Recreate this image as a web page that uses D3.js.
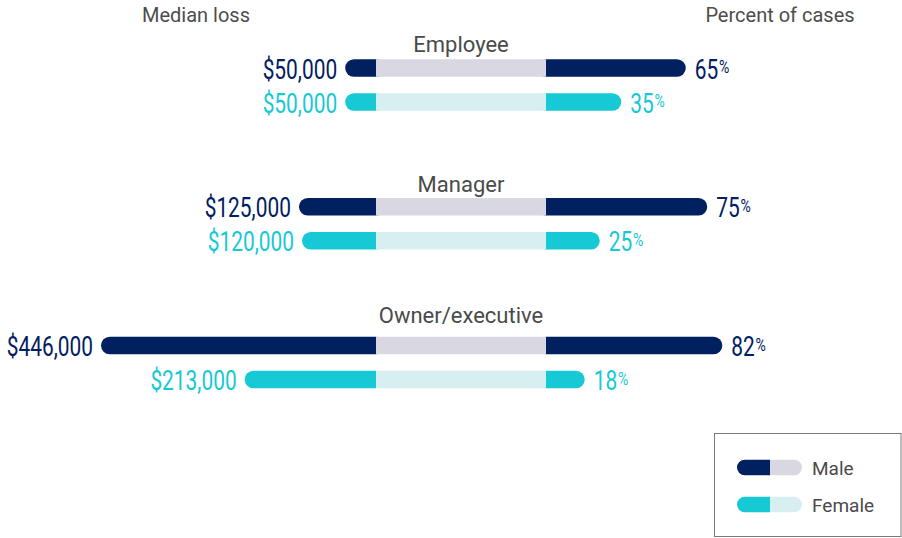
<!DOCTYPE html>
<html>
<head>
<meta charset="utf-8">
<script src="https://cdn.jsdelivr.net/npm/d3@7"></script>
<style>
  html, body { margin: 0; padding: 0; background: #fff; }
  svg { display: block; font-family: Roboto, "Open Sans", sans-serif; }
</style>
</head>
<body>
<svg id="chart" width="902" height="538"></svg>
<script>
// Perpetrator position: median loss (left) and percent of cases (right), by gender
const categories = ["Employee", "Manager", "Owner/executive"];
const maleLoss   = [50000, 125000, 446000];
const femaleLoss = [50000, 120000, 213000];
const malePct    = [65, 75, 82];
const femalePct  = [35, 25, 18];
const genders    = ["Male", "Female"];

const colors = {
  Male:   { bar: "#00205f", band: "#d9d7e2" },
  Female: { bar: "#16c9d4", band: "#d8eff1" }
};

const svg = d3.select("#chart");

// Layout
const bandLeft = 376, bandRight = 546;
const barH = 17.5, r = barH / 2;
const rowGap = 34;

const xLoss = d3.scaleLinear().domain([0, 446000]).range([bandLeft, 101]);
const xPct  = d3.scaleLinear().domain([0, 100]).range([bandRight, bandRight + 215]);
const yCat  = d3.scalePoint().domain(categories).range([68, 345.5]);
const yRow  = d3.scalePoint().domain(genders).range([0, rowGap]);

const fmtMoney = v => "$" + d3.format(",")(v);

const rows = [];
categories.forEach((c, i) => {
  rows.push({ cat: c, g: "Male",   loss: maleLoss[i],   pct: malePct[i] });
  rows.push({ cat: c, g: "Female", loss: femaleLoss[i], pct: femalePct[i] });
});
const cy = d => yCat(d.cat) + yRow(d.g);

// Column headers
svg.append("text").attr("x", 196).attr("y", 21.5).attr("text-anchor", "middle")
  .attr("font-size", 20).attr("fill", "#4d4d4d").text("Median loss");
svg.append("text").attr("x", 780).attr("y", 21.5).attr("text-anchor", "middle")
  .attr("font-size", 20).attr("fill", "#4d4d4d").text("Percent of cases");

// Category titles
const titleOffset = [16, 15, 22.5];
svg.selectAll("text.cat").data(categories).join("text")
  .attr("class", "cat")
  .attr("x", (bandLeft + bandRight) / 2)
  .attr("y", (d, i) => yCat(d) - titleOffset[i])
  .attr("text-anchor", "middle")
  .attr("font-size", 22)
  .attr("fill", "#4a4a4a")
  .text(d => d);

const bars = svg.append("g");

// Left: median loss bars (rounded at outer end)
bars.selectAll("rect.loss").data(rows).join("rect")
  .attr("class", "loss")
  .attr("x", d => xLoss(d.loss))
  .attr("y", d => cy(d) - barH / 2)
  .attr("width", d => xLoss(0) - xLoss(d.loss) + r)
  .attr("height", barH)
  .attr("rx", r)
  .attr("fill", d => colors[d.g].bar);

// Right: percent of cases bars
bars.selectAll("rect.pct").data(rows).join("rect")
  .attr("class", "pct")
  .attr("x", xPct(0) - r)
  .attr("y", d => cy(d) - barH / 2)
  .attr("width", d => xPct(d.pct) - xPct(0) + r)
  .attr("height", barH)
  .attr("rx", r)
  .attr("fill", d => colors[d.g].bar);

// Centre band
bars.selectAll("rect.band").data(rows).join("rect")
  .attr("class", "band")
  .attr("x", bandLeft)
  .attr("y", d => cy(d) - barH / 2)
  .attr("width", bandRight - bandLeft)
  .attr("height", barH)
  .attr("fill", d => colors[d.g].band);

// Value labels (condensed numerals)
const squeeze = 0.76;
svg.selectAll("g.lossLabel").data(rows).join("g")
  .attr("class", "lossLabel")
  .attr("transform", d => `translate(${xLoss(d.loss) - 8},${cy(d) + 10.5}) scale(${squeeze},1)`)
  .append("text")
  .attr("text-anchor", "end")
  .attr("font-size", 27.5)
  .attr("fill", d => colors[d.g].bar)
  .text(d => fmtMoney(d.loss));

const pctLabels = svg.selectAll("g.pctLabel").data(rows).join("g")
  .attr("class", "pctLabel")
  .attr("transform", d => `translate(${xPct(d.pct) + 9},${cy(d) + 10.5}) scale(${squeeze},1)`)
  .append("text")
  .attr("font-size", 27.5)
  .attr("fill", d => colors[d.g].bar);
pctLabels.append("tspan").text(d => d.pct);
pctLabels.append("tspan").attr("font-size", 18.5).attr("dy", -5.5).attr("dx", 1).text("%");

// Legend
const legend = svg.append("g");
legend.append("rect")
  .attr("x", 714.5).attr("y", 433.5).attr("width", 186.5).attr("height", 103)
  .attr("fill", "#fff").attr("stroke", "#7a7a7a").attr("stroke-width", 1);

const legY = d3.scalePoint().domain(genders).range([467.5, 504.5]);
const swL = 737, swM = 770, swR = 802, swH = 15.5, sr = swH / 2;
genders.forEach(g => {
  const top = legY(g) - sr, bot = legY(g) + sr;
  // light right half
  const pr = d3.path();
  pr.moveTo(swM, top); pr.lineTo(swR - sr, top);
  pr.arc(swR - sr, legY(g), sr, -Math.PI / 2, Math.PI / 2);
  pr.lineTo(swM, bot); pr.closePath();
  legend.append("path").attr("d", pr.toString()).attr("fill", colors[g].band);
  // dark left half
  const pl = d3.path();
  pl.moveTo(swM, top); pl.lineTo(swL + sr, top);
  pl.arc(swL + sr, legY(g), sr, -Math.PI / 2, Math.PI / 2, true);
  pl.lineTo(swM, bot); pl.closePath();
  legend.append("path").attr("d", pl.toString()).attr("fill", colors[g].bar);
  legend.append("text").attr("x", 812).attr("y", legY(g) + 7.5)
    .attr("font-size", 19).attr("fill", "#4a4a4a").text(g);
});
</script>
</body>
</html>
